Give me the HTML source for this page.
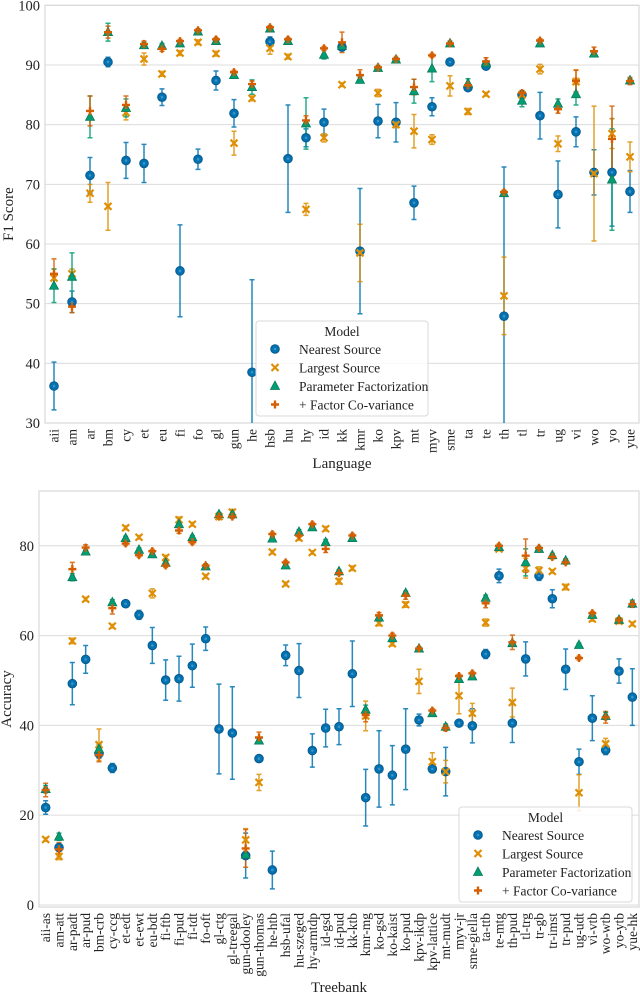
<!DOCTYPE html>
<html><head><meta charset="utf-8">
<style>
body{margin:0;background:#fff;}
svg{display:block;}
svg text{font-family:"Liberation Serif","DejaVu Serif",serif;}
</style></head>
<body>
<svg id="chart" width="640" height="998" viewBox="0 0 640 998" xmlns="http://www.w3.org/2000/svg" font-family="Liberation Serif, DejaVu Serif, serif"></svg>
<script>
// ---------- TOP CHART DATA ----------
const langs = ["aii","am","ar","bm","cy","et","eu","fi","fo","gl","gun","he","hsb","hu","hy","id","kk","kmr","ko","kpv","mt","myv","sme","ta","te","th","tl","tr","ug","vi","wo","yo","yue"];
const topNearest = [36.2,50.3,71.5,90.5,74,73.5,84.6,55.5,74.2,87.4,81.9,38.5,93.9,74.3,77.8,80.4,93,58.8,80.6,80.4,66.9,83,90.5,86.2,89.8,47.9,85,81.5,68.3,78.8,72,72,68.8];
const topNearestErr = [4,1.8,3,0.8,3,3.2,1.4,7.7,1.7,1.6,2.3,15.5,0.8,9,1.5,2.2,0.6,10.5,2.8,3.3,2.8,1.5,0.3,0.5,0.5,25,0.4,3.9,5.6,2.5,3.8,9,3.5];
const topLargest = [54.3,55,68.5,66.3,82,91,88.5,92,93.8,91.9,76.9,84.4,92.8,91.4,65.8,77.8,86.7,58.5,85.3,80,78.9,77.5,86.5,82.2,85.1,51.3,85,89.3,76.8,87.2,71.8,78.5,74.6];
const topLargestErr = [1.5,0.8,1.5,4,1.2,1,0.4,0.4,0.4,0.4,2,0.4,1,0.4,1,0.7,0.3,4.8,0.6,0.5,2.8,0.8,1.7,0.5,0.3,6.5,0.3,0.8,1.3,2,11.3,2.5,2.5];
const topParam = [53,54.5,81.3,95.5,82.8,93.3,93.2,93.6,95.6,94,88.3,86.3,96.1,94,80.2,91.7,93.2,87.5,89.5,90.9,85.6,89.4,93.6,86.9,90.3,68.5,84,93.6,83.5,85.1,91.9,70.8,87.4];
const topParamErr = [2.8,4,3.5,1.5,1.5,0.5,0.4,0.4,0.4,0.4,0.4,1.2,0.4,0.4,4.3,0.7,0.5,0.5,0.3,0.3,2,2.2,0.4,0.8,0.4,0.5,1,0.4,0.8,1.8,0.4,8.5,0.4];
const topCov = [55,49.5,82.3,95.5,83.3,93.5,92.7,94,95.8,94.3,88.8,86.8,96.3,94.3,80.7,92.8,93.8,88.3,89.6,91,86.3,91.6,93.6,86.6,90.6,68.7,85.3,94.1,82.6,87.3,92.3,77.6,87.3];
const topCovErr = [2.5,1,2.5,1,1.5,0.5,0.4,0.3,0.3,0.3,0.3,0.5,0.3,0.3,0.8,0.3,1.7,0.9,0.3,0.3,1.3,0.3,0.3,0.3,0.6,0.3,0.4,0.3,0.7,1.8,0.7,5.5,0.6];
const topTicks = [30,40,50,60,70,80,90,100];

// ---------- BOTTOM CHART DATA ----------
const treebanks = ["aii-as","am-att","ar-padt","ar-pud","bm-crb","cy-ccg","et-edt","et-ewt","eu-bdt","fi-ftb","fi-pud","fi-tdt","fo-oft","gl-ctg","gl-treegal","gun-dooley","gun-thomas","he-htb","hsb-ufal","hu-szeged","hy-armtdp","id-gsd","id-pud","kk-ktb","kmr-mg","ko-gsd","ko-kaist","ko-pud","kpv-ikdp","kpv-lattice","mt-mudt","myv-jr","sme-giella","ta-ttb","te-mtg","th-pud","tl-trg","tr-gb","tr-imst","tr-pud","ug-udt","vi-vtb","wo-wtb","yo-ytb","yue-hk"];
const botNearest = [21.7,12.8,49.3,54.7,33.7,30.5,67.1,64.6,57.8,50.1,50.4,53.3,59.3,39.2,38.3,11,32.6,7.8,55.6,52.2,34.4,39.4,39.7,51.5,23.9,30.3,28.9,34.7,41.2,30.3,29.7,40.5,39.9,55.9,73.3,40.5,54.8,73.3,68.2,52.5,31.9,41.6,34.5,52.1,46.3];
const botNearestErr = [1.5,0.8,4.7,3.1,1,1,0.5,1,4,4.5,5,4.8,2.6,10,10.3,5,0.5,4.2,2.3,6,3.7,4.2,4,7.3,6.3,8.5,6.6,9,1.3,0.8,5.4,0.5,3.8,1,1.5,4.3,3.8,1,2,4.5,2.8,5,1,2.7,6.3];
const botLargest = [14.6,10.8,58.8,68.1,35.7,62.1,84,81.9,69.4,77.4,85.8,84.8,73.2,86.5,87.5,14.5,27.3,78.6,71.5,81.7,78.5,83.8,72.1,75,42.1,62.8,58.2,66.9,49.8,31.9,29.7,46.6,42.7,62.9,79.3,45.1,75,74.5,74.3,70.8,25,63.7,35.9,63.2,62.6];
const botLargestErr = [0.4,0.7,0.6,0.4,3.5,0.4,0.4,0.4,1,0.5,0.6,0.4,0.4,0.6,0.6,2.5,1.8,0.4,0.4,0.5,0.4,0.5,0.6,0.5,3.3,0.6,0.5,0.6,2.7,2,2.5,4,2.2,0.8,0.4,3.2,2.2,0.8,0.4,0.6,4,0.5,1.2,0.4,0.4];
const botParam = [25.8,15.2,73,78.7,34.7,67.4,81.7,79.1,78.1,76.2,84.8,81.9,75.4,87,87,11.2,36.6,81.6,75.6,83.1,84.1,80.8,74.3,81.7,43.5,64,59.4,69.5,57.1,42.7,39.7,50.3,50.9,68.4,79.7,58.3,76.3,79.3,77.9,76.7,57.9,64.6,42.1,63.5,67.1];
const botParamErr = [0.8,0.8,0.8,0.4,1,0.6,0.4,0.4,0.4,0.4,0.5,0.4,0.4,0.4,0.4,0.5,0.5,0.4,0.4,0.5,0.4,0.6,0.4,0.4,1,0.4,0.4,0.4,0.4,0.4,0.6,0.4,0.5,0.6,0.4,0.5,3,0.4,0.4,0.4,0.4,0.4,0.8,0.4,0.8];
const botCov = [25.6,12.4,74.8,79.6,33.4,66.1,80.5,77.9,78.8,75.6,83.4,80.8,75.6,86.5,86.5,12.6,37.3,82.6,76.3,82.3,84.8,79.3,73.9,82.3,42.3,64.5,60,68.9,57.1,43.3,39.4,51,51.6,67.2,80,58.5,77.8,79.5,77.5,76.3,55,65,41.8,63.4,67];
const botCovErr = [1.5,1.5,1.5,0.6,1.5,1.3,0.4,0.4,0.4,0.4,0.6,0.4,0.4,0.4,0.4,4.2,1.2,0.4,0.4,0.4,0.4,0.8,0.4,0.4,1.5,0.6,0.5,0.8,0.4,0.4,0.6,0.4,0.4,1,0.4,1.6,3.7,0.4,0.4,0.4,0.4,0.4,1.3,0.4,0.6];
const botTicks = [0,20,40,60,80];

const NS = "http://www.w3.org/2000/svg";
const svg = document.getElementById("chart");
const COL = {n:"#0173b2", l:"#de8f05", p:"#029e73", c:"#d55e00"};
function mk(tag, attrs, parent){
  const e = document.createElementNS(NS, tag);
  for (const k in attrs) e.setAttribute(k, attrs[k]);
  (parent||svg).appendChild(e);
  return e;
}
function marker(g, kind, x, y){
  const c = COL[kind];
  if (kind==="n"){
    const m = mk("circle",{cx:x,cy:y,r:4.3,fill:c,stroke:"#0a5a8c","stroke-width":1},g);
    
    
    mk("circle",{cx:x,cy:y,r:1.3,fill:"#3d93c8"},g);
  } else if (kind==="l"){
    const m = mk("path",{d:`M${x-3.5},${y-3.5}L${x+3.5},${y+3.5}M${x-3.5},${y+3.5}L${x+3.5},${y-3.5}`,stroke:c,"stroke-width":2.2,fill:"none"},g);
    
    
  } else if (kind==="p"){
    const m = mk("path",{d:`M${x},${y-5}L${x+4.5},${y+3.5}L${x-4.5},${y+3.5}Z`,fill:c,stroke:"#0b7a5a","stroke-width":0.8},g);
    
    
  } else {
    const m = mk("path",{d:`M${x-4},${y}L${x+4},${y}M${x},${y-4}L${x},${y+4}`,stroke:c,"stroke-width":2.4,fill:"none"},g);
    
    
  }
}
function chart(o){
  const g = mk("g",{});
  
  
  const n = o.cats.length, step = (o.R-o.L)/n;
  const X = i => o.L + step*(i+0.5);
  const Y = v => o.B - (v-o.y0)/(o.y1-o.y0)*(o.B-o.T);
  o.ticks.forEach(t=>{
    const gl = mk("line",{x1:o.L,x2:o.R,y1:Y(t),y2:Y(t),stroke:"#dcdcdc","stroke-width":1},g);
    
    
    const tl = mk("text",{x:o.L-5,y:Y(t)+5,"text-anchor":"end","font-size":14.5,fill:"#222"},g);
    tl.textContent = t;
    
    
  });
  const fr = mk("rect",{x:o.L,y:o.T,width:o.R-o.L,height:o.B-o.T,fill:"none",stroke:"#d8d8d8","stroke-width":1.2},g);
  
  
  o.cats.forEach((c,i)=>{
    const tl = mk("text",{transform:`translate(${X(i)+4.5},${o.B+6}) rotate(-90)`,"text-anchor":"end","font-size":13.5,fill:"#222"},g);
    tl.textContent = c;
    
    
  });
  const clip = "clip"+o.name;
  const cp = mk("clipPath",{id:clip},g);
  mk("rect",{x:o.L,y:o.T,width:o.R-o.L,height:o.B-o.T},cp);
  const pg = mk("g",{"clip-path":`url(#${clip})`},g);
  const series = [["n",o.nv,o.ne],["l",o.lv,o.le],["p",o.pv,o.pe],["c",o.cv,o.ce]];
  series.forEach(([k,vals,errs])=>{
    vals.forEach((v,i)=>{
      const x = X(i), e = errs[i];
      const eb = mk("path",{d:`M${x},${Y(v-e)}L${x},${Y(v+e)}M${x-2.5},${Y(v-e)}L${x+2.5},${Y(v-e)}M${x-2.5},${Y(v+e)}L${x+2.5},${Y(v+e)}`,stroke:COL[k],"stroke-width":1.5,fill:"none",opacity:0.85},pg);
      
      
    });
  });
  series.forEach(([k,vals])=>{
    vals.forEach((v,i)=>marker(pg,k,X(i),Y(v)));
  });
  const yl = mk("text",{transform:`translate(${o.ylx},${(o.T+o.B)/2}) rotate(-90)`,"text-anchor":"middle","font-size":15,fill:"#222"},g);
  yl.textContent = o.ylabel;
  
  
  const xl = mk("text",{x:(o.L+o.R)/2,y:o.xly,"text-anchor":"middle","font-size":15,fill:"#222"},g);
  xl.textContent = o.xlabel;
  
  
  const lg = mk("g",{},g);
  
  
  mk("rect",{x:o.lx,y:o.ly,width:o.lw,height:o.lh,rx:3,fill:"#fff","fill-opacity":0.85,stroke:"#d8d8d8"},lg);
  const tt = mk("text",{x:o.lx+o.lw/2,y:o.ly+15,"text-anchor":"middle","font-size":13.5,fill:"#222"},lg);
  tt.textContent = "Model";
  
  
  const names = ["Nearest Source","Largest Source","Parameter Factorization","+ Factor Co-variance"];
  ["n","l","p","c"].forEach((k,j)=>{
    const yy = o.ly+28+j*18.5;
    marker(lg,k,o.lx+19,yy);
    const t = mk("text",{x:o.lx+43,y:yy+5,"font-size":13.5,fill:"#222"},lg);
    t.textContent = names[j];
    
    
  });
}
chart({name:"top-chart",cats:langs,L:45,R:639,T:5.3,B:423,y0:30,y1:100,ticks:topTicks,
  nv:topNearest,ne:topNearestErr,lv:topLargest,le:topLargestErr,pv:topParam,pe:topParamErr,cv:topCov,ce:topCovErr,
  ylabel:"F1 Score",xlabel:"Language",ylx:13,xly:468,lx:256,ly:321,lw:172,lh:95});
chart({name:"bottom-chart",cats:treebanks,L:39,R:639,T:491,B:907,y0:-0.45,y1:92.2,ticks:botTicks,
  nv:botNearest,ne:botNearestErr,lv:botLargest,le:botLargestErr,pv:botParam,pe:botParamErr,cv:botCov,ce:botCovErr,
  ylabel:"Accuracy",xlabel:"Treebank",ylx:11,xly:992,lx:459,ly:807,lw:173,lh:95});
</script>
</body></html>
